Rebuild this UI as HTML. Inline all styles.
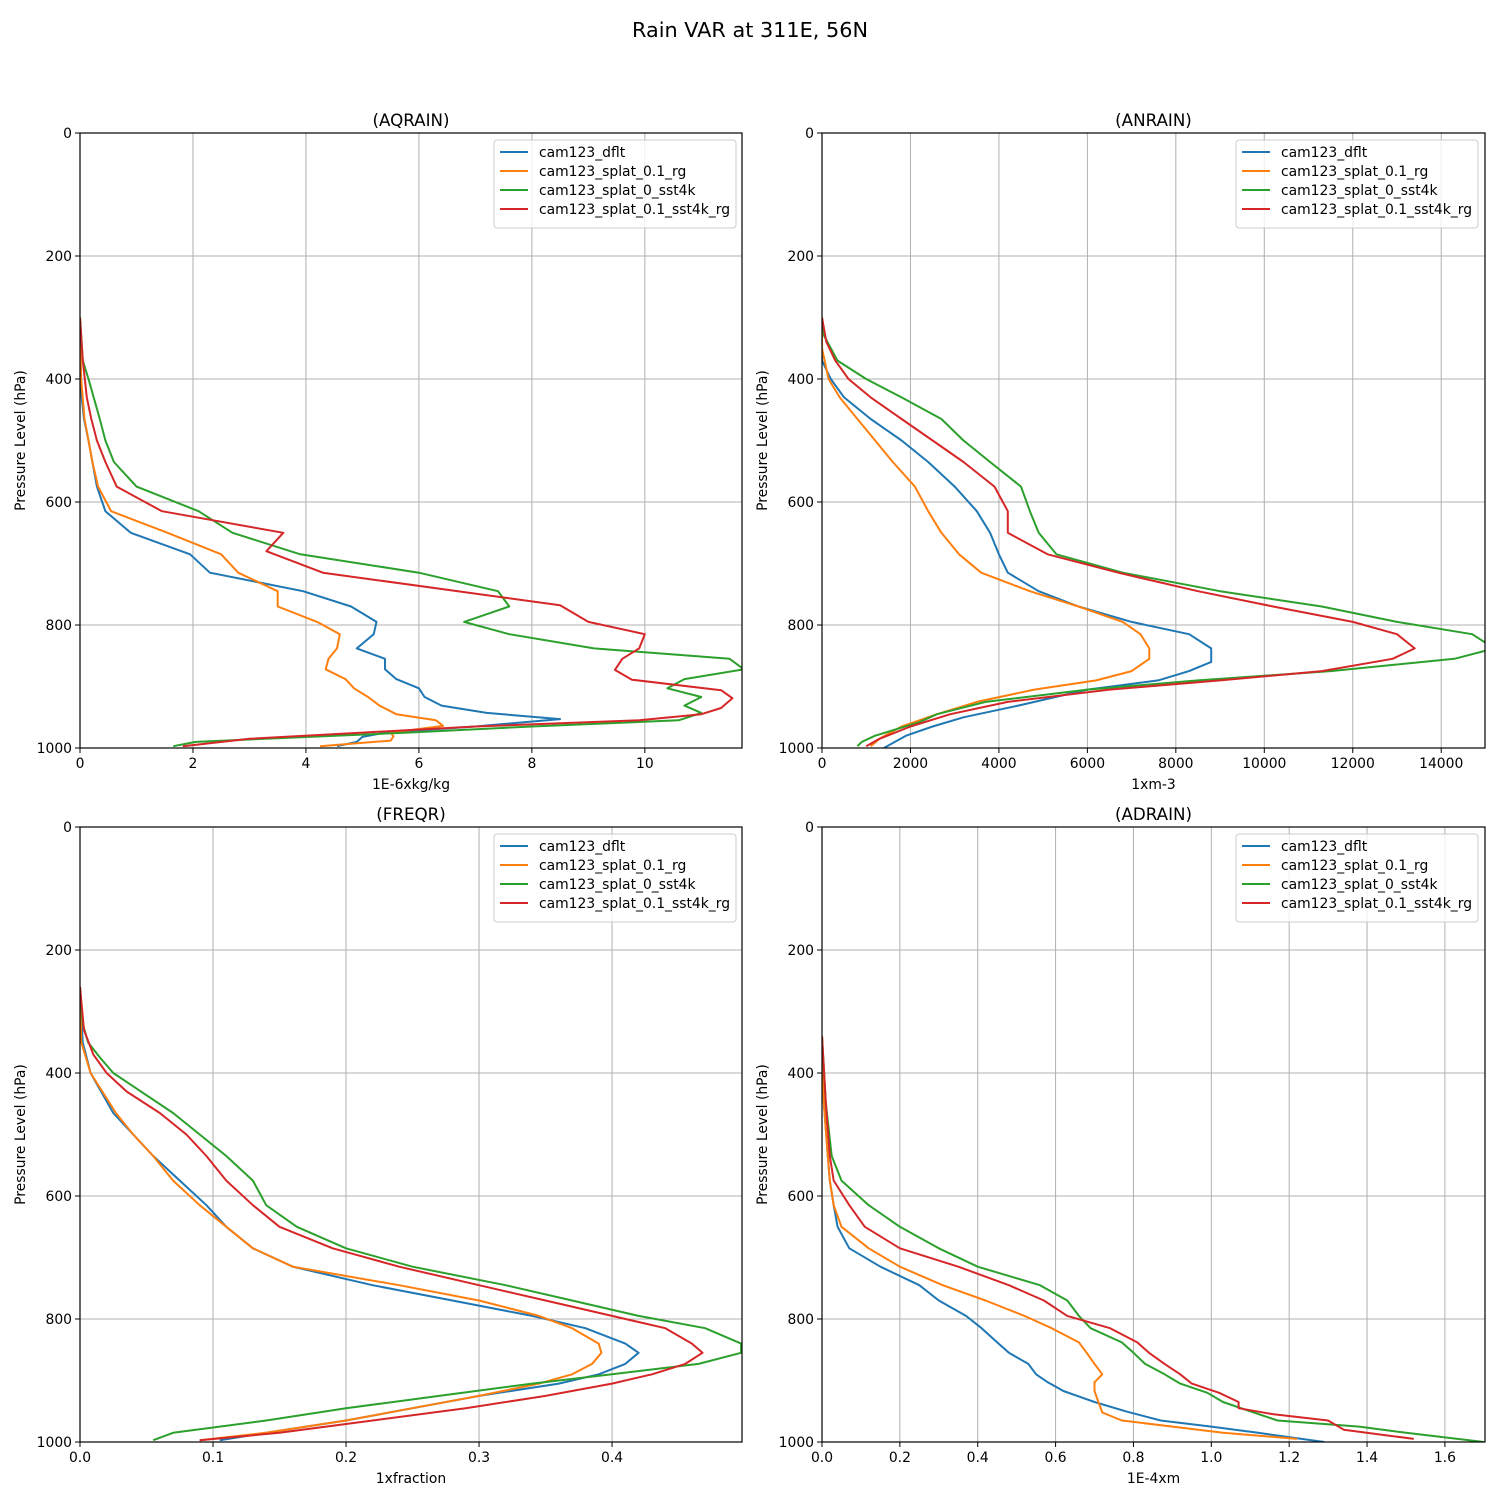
<!DOCTYPE html>
<html><head><meta charset="utf-8">
<style>
html,body{margin:0;padding:0;background:#fff;}
svg{display:block;font-family:"DejaVu Sans","Liberation Sans",sans-serif;}
</style></head>
<body>
<svg id="fig" width="1500" height="1500" viewBox="0 0 1500 1500" xmlns="http://www.w3.org/2000/svg">
<rect width="1500" height="1500" fill="#fff"/>
<text x="750" y="37" text-anchor="middle" font-size="20.8" fill="#000">Rain VAR at 311E, 56N</text>
</svg>
<script>
const seriesNames = ["cam123_dflt","cam123_splat_0.1_rg","cam123_splat_0_sst4k","cam123_splat_0.1_sst4k_rg"];
const seriesColors = ["#1f77b4","#ff7f0e","#2ca02c","#d62728"];
const yTicks = [0,200,400,600,800,1000];

// ---- AQRAIN ----
const aqBlueP = [300,370,430,465,500,535,575,615,650,685,715,745,770,795,815,838,855,872,888,903,917,931,943,953,965,975,982,990,997];
const aqBlueV = [0,0.01,0.03,0.07,0.15,0.22,0.3,0.45,0.9,1.95,2.3,3.95,4.8,5.25,5.2,4.9,5.4,5.4,5.6,6.0,6.1,6.4,7.2,8.5,7.0,5.4,5.0,4.9,4.55];
const aqOrgP = [300,400,465,500,535,575,615,650,685,715,745,770,795,815,838,855,872,888,903,917,931,945,955,964,975,981,988,997];
const aqOrgV = [0,0.02,0.08,0.15,0.22,0.32,0.55,1.55,2.5,2.8,3.5,3.5,4.2,4.6,4.55,4.4,4.35,4.7,4.85,5.1,5.3,5.6,6.3,6.43,5.5,5.55,5.5,4.25];
const aqGrnP = [300,370,400,465,500,535,575,615,650,685,715,745,770,795,815,838,855,872,888,903,917,931,943,955,965,975,983,990,997];
const aqGrnV = [0,0.05,0.15,0.35,0.45,0.6,1.0,2.1,2.7,3.9,6.0,7.4,7.6,6.8,7.6,9.1,11.5,11.75,10.7,10.4,11.0,10.7,11.0,10.6,8.0,5.8,3.8,2.05,1.65];
const aqRedP = [300,370,430,465,500,535,575,615,650,680,715,768,795,815,838,855,873,889,906,919,935,945,955,965,975,985,997];
const aqRedV = [0,0.05,0.12,0.2,0.3,0.45,0.65,1.45,3.6,3.3,4.3,8.5,9.0,10.0,9.9,9.6,9.47,9.77,11.35,11.55,11.35,11.0,9.9,7.0,5.0,3.0,1.82];
const aqXTicks = [0,2,4,6,8,10];

// ---- ANRAIN ----
const anBlueP = [300,370,400,430,465,500,535,575,615,650,685,715,745,770,795,815,838,860,875,890,905,930,950,965,980,1000];
const anBlueV = [0,0,200,500,1100,1800,2400,3000,3500,3800,4000,4200,4900,5800,7000,8300,8800,8800,8300,7600,6000,4500,3200,2500,1900,1400];
const anOrgP = [300,350,400,430,465,500,535,575,615,650,685,715,745,770,795,815,838,855,875,890,905,925,945,965,985,997];
const anOrgV = [0,0,150,400,800,1200,1600,2100,2400,2700,3100,3600,4700,5800,6800,7200,7400,7400,7000,6200,4800,3500,2600,1800,1300,1100];
const anGrnP = [300,330,370,400,430,465,500,535,575,615,650,685,715,745,770,795,815,838,855,875,890,905,925,945,958,980,990,997];
const anGrnV = [0,50,350,1000,1800,2700,3200,3800,4500,4700,4900,5300,6800,9000,11300,13000,14700,15200,14300,11500,8500,6000,3700,2600,2200,1200,900,800];
const anRedP = [300,340,370,400,430,465,500,535,575,615,650,685,715,745,770,795,815,838,855,875,890,905,925,945,965,985,997];
const anRedV = [0,100,300,600,1100,1800,2500,3200,3900,4200,4200,5100,6700,8500,10200,12000,13000,13400,12900,11300,9000,6500,4200,2900,2000,1300,1000];
const anXTicks = [0,2000,4000,6000,8000,10000,12000,14000];

// ---- FREQR ----
const frBlueP = [260,350,400,465,500,535,575,615,650,685,715,745,770,795,815,840,855,873,890,905,925,945,965,985,997];
const frBlueV = [0,0.002,0.008,0.025,0.04,0.055,0.075,0.095,0.11,0.13,0.16,0.22,0.28,0.34,0.38,0.41,0.42,0.41,0.39,0.36,0.3,0.25,0.2,0.14,0.105];
const frOrgP = [260,350,400,465,500,535,575,615,650,685,715,745,770,795,815,840,855,873,890,905,925,945,965,985,997];
const frOrgV = [0,0.001,0.008,0.027,0.04,0.055,0.07,0.09,0.11,0.13,0.16,0.24,0.3,0.345,0.37,0.39,0.392,0.385,0.37,0.345,0.3,0.25,0.2,0.14,0.09];
const frGrnP = [260,320,350,375,400,465,500,535,575,615,650,685,715,745,770,795,815,840,855,873,890,905,925,945,965,985,997];
const frGrnV = [0,0.002,0.006,0.015,0.025,0.07,0.09,0.11,0.13,0.14,0.163,0.2,0.25,0.32,0.37,0.42,0.47,0.497,0.497,0.465,0.4,0.34,0.27,0.2,0.14,0.07,0.055];
const frRedP = [260,330,370,400,430,465,500,535,575,615,650,685,715,745,770,795,815,840,855,873,890,905,925,945,965,985,997];
const frRedV = [0,0.003,0.01,0.02,0.035,0.06,0.08,0.095,0.11,0.13,0.15,0.19,0.24,0.3,0.35,0.4,0.44,0.46,0.468,0.455,0.43,0.4,0.35,0.29,0.22,0.15,0.09];
const frXTicks = [0,0.1,0.2,0.3,0.4];

// ---- ADRAIN ----
const adBlueP = [340,450,535,575,615,650,685,715,745,770,795,815,838,855,873,890,903,917,935,950,965,975,985,1000];
const adBlueV = [0,0.005,0.015,0.02,0.03,0.04,0.07,0.15,0.25,0.3,0.37,0.41,0.45,0.48,0.53,0.55,0.58,0.62,0.7,0.78,0.87,1.0,1.12,1.29];
const adOrgP = [340,450,535,575,615,650,685,715,745,770,795,815,838,855,873,890,903,917,935,952,965,975,985,995];
const adOrgV = [0,0.005,0.015,0.02,0.03,0.05,0.12,0.2,0.31,0.42,0.52,0.59,0.66,0.68,0.7,0.72,0.7,0.7,0.71,0.72,0.77,0.9,1.03,1.22];
const adGrnP = [340,450,535,575,615,650,685,715,745,770,795,815,838,855,873,890,905,920,935,950,965,975,985,1000];
const adGrnV = [0,0.01,0.025,0.05,0.12,0.2,0.3,0.4,0.56,0.63,0.66,0.69,0.77,0.8,0.83,0.88,0.92,0.99,1.03,1.1,1.17,1.38,1.5,1.7];
const adRedP = [340,450,535,575,615,650,685,715,745,770,795,815,838,855,873,890,905,920,935,945,955,965,980,995];
const adRedV = [0,0.01,0.02,0.03,0.07,0.11,0.2,0.35,0.48,0.57,0.63,0.74,0.81,0.84,0.88,0.92,0.95,1.02,1.07,1.07,1.16,1.3,1.34,1.52];
const adXTicks = [0,0.2,0.4,0.6,0.8,1.0,1.2,1.4,1.6];

const NS = "http://www.w3.org/2000/svg";
const fig = document.getElementById("fig");
function mk(tag, attrs, parent){
  const e = document.createElementNS(NS, tag);
  for (const k in attrs) e.setAttribute(k, attrs[k]);
  (parent||fig).appendChild(e);
  return e;
}

const panels = [
  {key:"aqrain", title:"(AQRAIN)", xlabel:"1E-6xkg/kg", x0:80, x1:742, y0:133, y1:748, xmax:11.72, ticks:aqXTicks, fmt:v=>String(v),
   P:[aqBlueP,aqOrgP,aqGrnP,aqRedP], V:[aqBlueV,aqOrgV,aqGrnV,aqRedV], lx:494},
  {key:"anrain", title:"(ANRAIN)", xlabel:"1xm-3", x0:822, x1:1485, y0:133, y1:748, xmax:14990, ticks:anXTicks, fmt:v=>String(v),
   P:[anBlueP,anOrgP,anGrnP,anRedP], V:[anBlueV,anOrgV,anGrnV,anRedV], lx:1236},
  {key:"freqr", title:"(FREQR)", xlabel:"1xfraction", x0:80, x1:742, y0:827, y1:1442, xmax:0.4977, ticks:frXTicks, fmt:v=>v.toFixed(1),
   P:[frBlueP,frOrgP,frGrnP,frRedP], V:[frBlueV,frOrgV,frGrnV,frRedV], lx:494},
  {key:"adrain", title:"(ADRAIN)", xlabel:"1E-4xm", x0:822, x1:1485, y0:827, y1:1442, xmax:1.703, ticks:adXTicks, fmt:v=>v.toFixed(1),
   P:[adBlueP,adOrgP,adGrnP,adRedP], V:[adBlueV,adOrgV,adGrnV,adRedV], lx:1236}
];

panels.forEach(pn=>{
  const g = mk("g", {});
  
  
  const xs = v => pn.x0 + (v/pn.xmax)*(pn.x1-pn.x0);
  const ys = p => pn.y0 + (p/1000)*(pn.y1-pn.y0);
  const clip = "clip-" + pn.key;
  const cp = mk("clipPath", {id:clip}, g);
  mk("rect", {x:pn.x0, y:pn.y0, width:pn.x1-pn.x0, height:pn.y1-pn.y0}, cp);
  pn.ticks.forEach(t=>{
    const x = xs(t);
    const l = mk("line", {x1:x, x2:x, y1:pn.y0, y2:pn.y1, stroke:"#b0b0b0", "stroke-width":1}, g);
    
    
    mk("line", {x1:x, x2:x, y1:pn.y1, y2:pn.y1+5, stroke:"#000", "stroke-width":1}, g);
    const tx = mk("text", {x:x, y:pn.y1+20, "text-anchor":"middle", "font-size":13.9}, g);
    tx.textContent = pn.fmt(t);
    
    
  });
  yTicks.forEach(t=>{
    const y = ys(t);
    const l = mk("line", {x1:pn.x0, x2:pn.x1, y1:y, y2:y, stroke:"#b0b0b0", "stroke-width":1}, g);
    
    
    mk("line", {x1:pn.x0-5, x2:pn.x0, y1:y, y2:y, stroke:"#000", "stroke-width":1}, g);
    const tx = mk("text", {x:pn.x0-8, y:y+5, "text-anchor":"end", "font-size":13.9}, g);
    tx.textContent = String(t);
    
    
  });
  pn.P.forEach((P,i)=>{
    const V = pn.V[i];
    const pts = P.map((p,j)=>xs(V[j]).toFixed(1)+","+ys(p).toFixed(1)).join(" ");
    const pl = mk("polyline", {points:pts, fill:"none", stroke:seriesColors[i], "stroke-width":2, "stroke-linejoin":"round", "clip-path":"url(#"+clip+")"}, g);
    
    
  });
  const fr = mk("rect", {x:pn.x0, y:pn.y0, width:pn.x1-pn.x0, height:pn.y1-pn.y0, fill:"none", stroke:"#000", "stroke-width":1.2}, g);
  
  
  const tt = mk("text", {x:(pn.x0+pn.x1)/2, y:pn.y0-7, "text-anchor":"middle", "font-size":16.7}, g);
  tt.textContent = pn.title;
  
  
  const xl = mk("text", {x:(pn.x0+pn.x1)/2, y:pn.y1+41, "text-anchor":"middle", "font-size":13.9}, g);
  xl.textContent = pn.xlabel;
  
  
  const yc = (pn.y0+pn.y1)/2, yx = pn.x0-55;
  const yl = mk("text", {x:yx, y:yc, "text-anchor":"middle", "font-size":13.9, transform:"rotate(-90 "+yx+" "+yc+")"}, g);
  yl.textContent = "Pressure Level (hPa)";
  
  
  const lg = mk("g", {}, g);
  
  
  mk("rect", {x:pn.lx, y:pn.y0+7, width:242, height:88, rx:3, fill:"#fff", "fill-opacity":0.8, stroke:"#cccccc", "stroke-width":1}, lg);
  seriesNames.forEach((n,i)=>{
    const ly = pn.y0+19+i*19;
    const e = mk("g", {}, lg);
    
    
    mk("line", {x1:pn.lx+6, x2:pn.lx+34, y1:ly, y2:ly, stroke:seriesColors[i], "stroke-width":2}, e);
    const t = mk("text", {x:pn.lx+45, y:ly+5, "font-size":13.9}, e);
    t.textContent = n;
  });
});
</script>
</body></html>
